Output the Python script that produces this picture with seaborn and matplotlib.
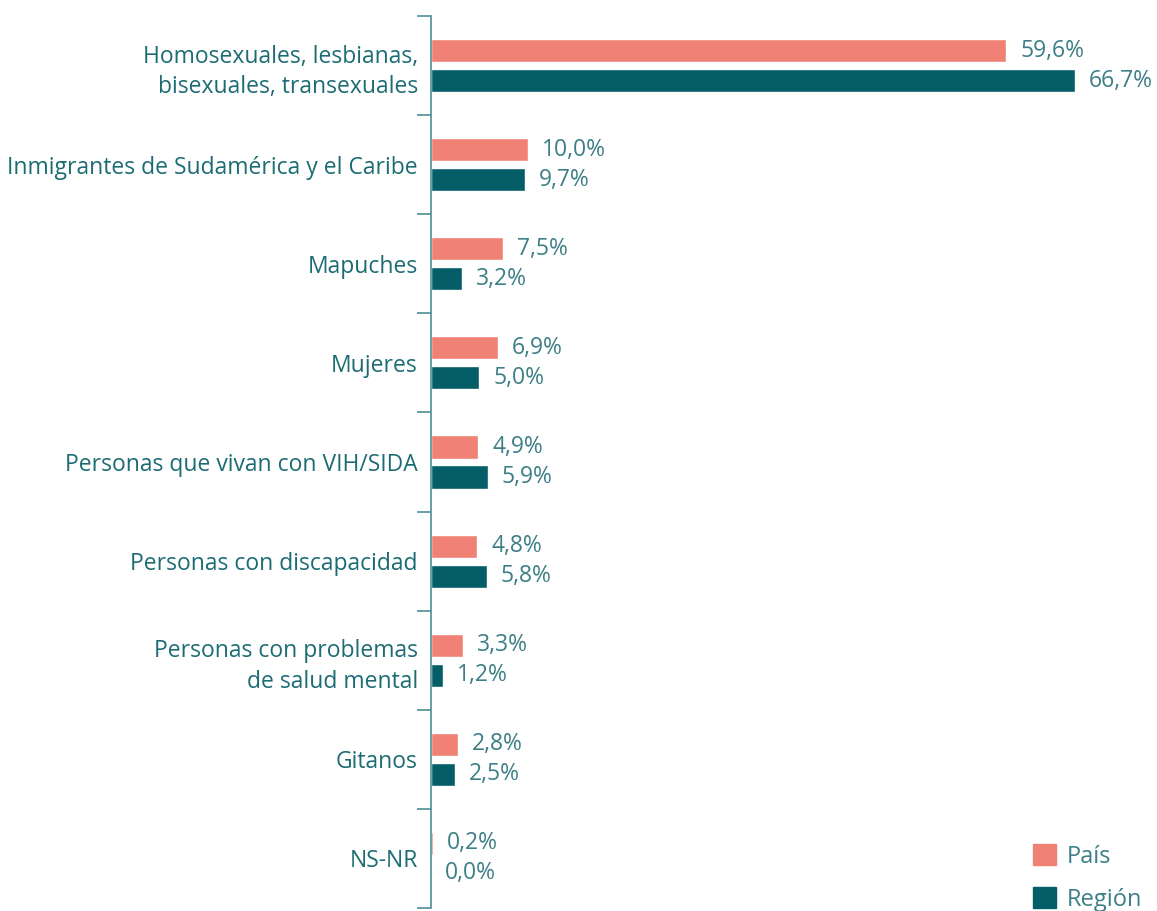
import matplotlib
matplotlib.use("Agg")
import matplotlib.pyplot as plt
import matplotlib.patches as mpatches
import seaborn as sns
import pandas as pd
import numpy as np

categorias = [
    "Homosexuales, lesbianas,\nbisexuales, transexuales",
    "Inmigrantes de Sudamérica y el Caribe",
    "Mapuches",
    "Mujeres",
    "Personas que vivan con VIH/SIDA",
    "Personas con discapacidad",
    "Personas con problemas\nde salud mental",
    "Gitanos",
    "NS-NR",
]
pais = [59.6, 10.0, 7.5, 6.9, 4.9, 4.8, 3.3, 2.8, 0.2]
region = [66.7, 9.7, 3.2, 5.0, 5.9, 5.8, 1.2, 2.5, 0.0]
series = ["País", "Región"]

color_pais = "#F08275"
color_region = "#055E67"
color_texto = "#1C6C74"
color_valor = "#3C7F86"
color_eje = "#4E8F95"

df = pd.DataFrame({
    "categoria": categorias * 2,
    "valor": pais + region,
    "serie": [series[0]] * len(pais) + [series[1]] * len(region),
})

sns.set_style("white")
plt.rcParams["font.family"] = ["Open Sans", "DejaVu Sans"]

fig = plt.figure(figsize=(11.57, 9.11), dpi=100)
ax = fig.add_axes([431 / 1157, 3 / 911, (1155 - 431) / 1157, (908 - 16) / 911])

sns.barplot(
    data=df, y="categoria", x="valor", hue="serie", orient="h",
    palette=[color_pais, color_region], width=0.605, gap=0.23,
    order=categorias, hue_order=series, legend=False, ax=ax,
    saturation=1,
)

for cont, vals in zip(ax.containers, [pais, region]):
    ax.bar_label(cont, labels=[f"{v:.1f}%".replace(".", ",") for v in vals],
                 padding=10, fontsize=16.5, color=color_valor)

ax.set_xlim(0, 75)
ax.set_ylim(len(categorias) - 0.5, -0.5)
ax.set_xlabel("")
ax.set_ylabel("")
ax.set_xticks([])

n = len(categorias)
ax.set_yticks(np.arange(-0.5, n, 1.0), [""] * (n + 1))
ax.set_yticks(np.arange(n), categorias, minor=True)
ax.tick_params(axis="y", which="major", length=10, width=1.2, color=color_eje, direction="out", left=True)
ax.tick_params(axis="y", which="minor", length=0, pad=9.5, labelsize=16.5, labelcolor=color_texto)
for lbl in ax.get_yticklabels(minor=True):
    lbl.set_linespacing(1.35)
    lbl.set_horizontalalignment("right")

for s in ["top", "right", "bottom"]:
    ax.spines[s].set_visible(False)
ax.spines["left"].set_color(color_eje)
ax.spines["left"].set_linewidth(1.2)

handles = [mpatches.Patch(color=color_pais), mpatches.Patch(color=color_region)]
leg = fig.legend(handles, series, loc="lower left", bbox_to_anchor=(1012 / 1157, -22 / 911),
                 frameon=False, fontsize=17, labelcolor=color_valor,
                 handlelength=0.95, handleheight=0.95, labelspacing=0.8, handletextpad=0.45)

fig.savefig("out.png", dpi=100)
